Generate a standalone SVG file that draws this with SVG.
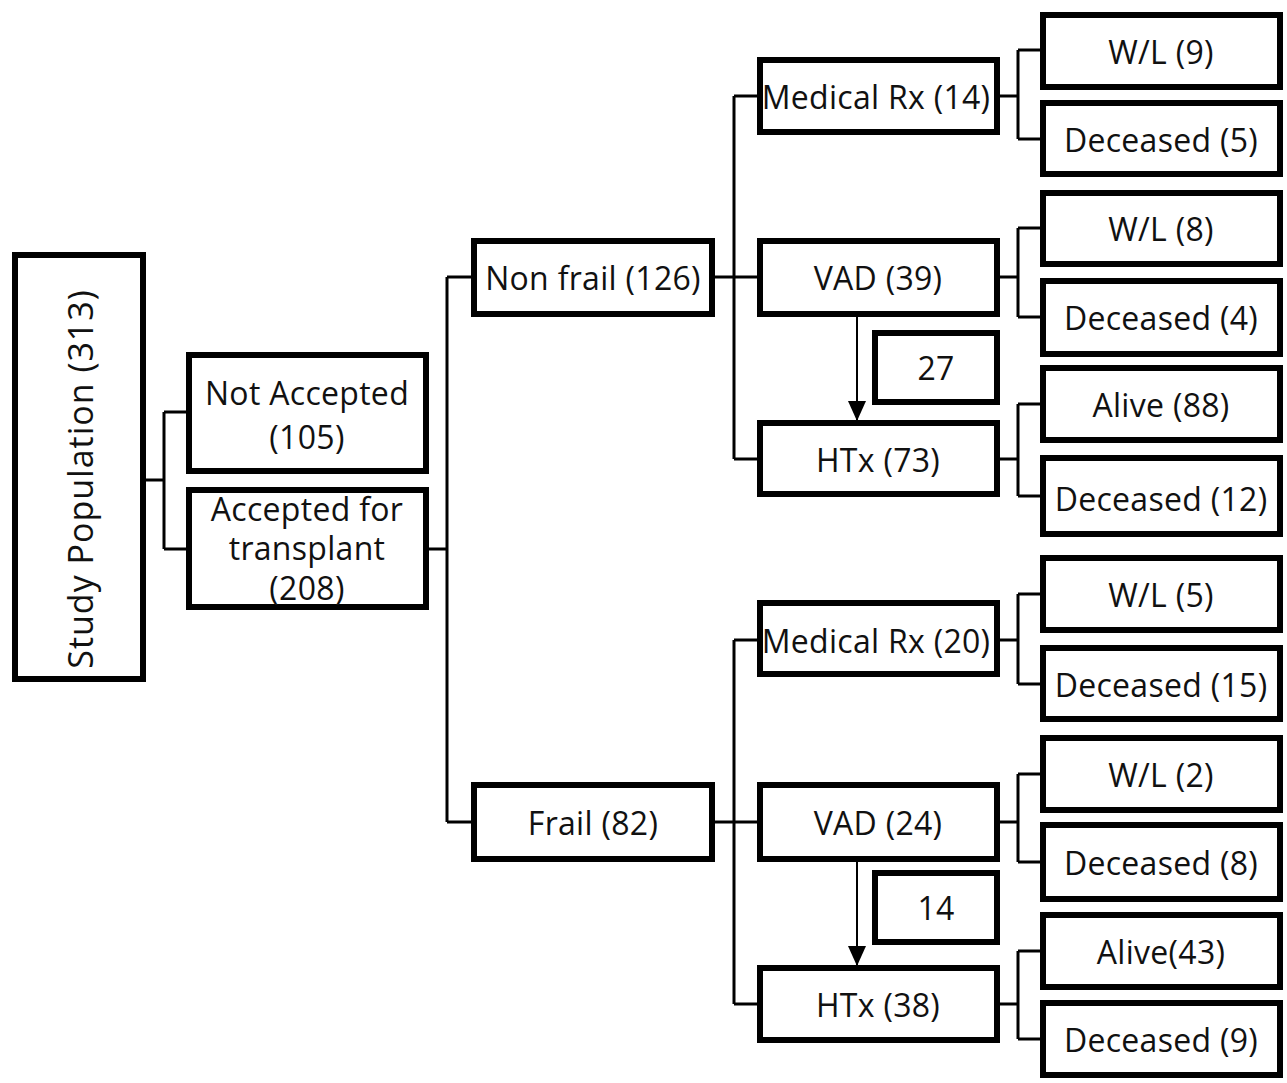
<svg xmlns="http://www.w3.org/2000/svg" width="1287" height="1083" viewBox="0 0 1287 1083">
<style>
.box{fill:#fff;stroke:#000;stroke-width:6}
.lbl{font-family:"Open Sans","Noto Sans",sans-serif;font-size:32px;font-weight:500;letter-spacing:0.3px;fill:#111;text-anchor:middle;dominant-baseline:central}
.big{font-size:34px;letter-spacing:1px}
.con{fill:none;stroke:#000;stroke-width:3}
.arr{fill:none;stroke:#000;stroke-width:2}
</style>
<defs>
<marker id="ah" markerWidth="20" markerHeight="18" refX="20" refY="9" orient="auto" markerUnits="userSpaceOnUse" viewBox="0 0 20 18">
<path d="M0,0 L20,9 L0,18 Z" fill="#000"/>
</marker>
</defs>
<rect width="1287" height="1083" fill="#fff"/>
<g id="connectors">
<path class="con" d="M146,480 H164 M164,412 V549 M164,412 H189 M164,549 H189"/>
<path class="con" d="M429,549 H447 M447,277 V822 M447,277 H474 M447,822 H474"/>
<path class="con" d="M715,277 H734 M734,96 V459 M734,96 H760 M734,277 H760 M734,459 H760"/>
<path class="con" d="M715,822 H734 M734,640 V1004 M734,640 H760 M734,822 H760 M734,1004 H760"/>
<path class="con" d="M1000,96 H1018 M1018,50 V139 M1018,50 H1043 M1018,139 H1043"/>
<path class="con" d="M1000,277 H1018 M1018,228 V317 M1018,228 H1043 M1018,317 H1043"/>
<path class="con" d="M1000,459 H1018 M1018,404 V496 M1018,404 H1043 M1018,496 H1043"/>
<path class="con" d="M1000,640 H1018 M1018,594 V684 M1018,594 H1043 M1018,684 H1043"/>
<path class="con" d="M1000,822 H1018 M1018,774 V862 M1018,774 H1043 M1018,862 H1043"/>
<path class="con" d="M1000,1004 H1018 M1018,951 V1039 M1018,951 H1043 M1018,1039 H1043"/>
<line class="arr" x1="857" y1="317" x2="857" y2="421" marker-end="url(#ah)"/>
<line class="arr" x1="857" y1="862" x2="857" y2="966" marker-end="url(#ah)"/>
</g>
<g id="study"><rect class="box" x="15" y="255" width="128" height="424"/><text class="lbl big" transform="translate(80,479) rotate(-90)" x="0" y="0">Study Population (313)</text></g>
<g id="notaccepted"><rect class="box" x="189" y="355" width="237" height="116"/><text class="lbl" x="307" y="392">Not Accepted</text><text class="lbl" x="307" y="436">(105)</text></g>
<g id="accepted"><rect class="box" x="189" y="490" width="237" height="117"/><text class="lbl" x="307" y="508">Accepted for</text><text class="lbl" x="307" y="547">transplant</text><text class="lbl" x="307" y="587">(208)</text></g>
<g id="nonfrail"><rect class="box" x="474" y="241" width="238" height="73"/><text class="lbl" x="593" y="277">Non frail (126)</text></g>
<g id="frail"><rect class="box" x="474" y="785" width="238" height="74"/><text class="lbl" x="593" y="822">Frail (82)</text></g>
<g id="medrx14"><rect class="box" x="760" y="60" width="237" height="72"/><text class="lbl" x="876" y="96">Medical Rx (14)</text></g>
<g id="vad39"><rect class="box" x="760" y="241" width="237" height="73"/><text class="lbl" x="878" y="277">VAD (39)</text></g>
<g id="n27"><rect class="box" x="875" y="333" width="122" height="69"/><text class="lbl" x="936" y="367">27</text></g>
<g id="htx73"><rect class="box" x="760" y="423" width="237" height="71"/><text class="lbl" x="878" y="459">HTx (73)</text></g>
<g id="wl9"><rect class="box" x="1043" y="15" width="237" height="72"/><text class="lbl" x="1161" y="51">W/L (9)</text></g>
<g id="dec5"><rect class="box" x="1043" y="103" width="237" height="71"/><text class="lbl" x="1161" y="139">Deceased (5)</text></g>
<g id="wl8"><rect class="box" x="1043" y="193" width="237" height="71"/><text class="lbl" x="1161" y="228">W/L (8)</text></g>
<g id="dec4"><rect class="box" x="1043" y="281" width="237" height="73"/><text class="lbl" x="1161" y="317">Deceased (4)</text></g>
<g id="alive88"><rect class="box" x="1043" y="368" width="237" height="72"/><text class="lbl" x="1161" y="404">Alive (88)</text></g>
<g id="dec12"><rect class="box" x="1043" y="458" width="237" height="76"/><text class="lbl" x="1161" y="498">Deceased (12)</text></g>
<g id="medrx20"><rect class="box" x="760" y="603" width="237" height="71"/><text class="lbl" x="876" y="640">Medical Rx (20)</text></g>
<g id="vad24"><rect class="box" x="760" y="785" width="237" height="74"/><text class="lbl" x="878" y="822">VAD (24)</text></g>
<g id="n14"><rect class="box" x="875" y="873" width="122" height="69"/><text class="lbl" x="936" y="907">14</text></g>
<g id="htx38"><rect class="box" x="760" y="968" width="237" height="72"/><text class="lbl" x="878" y="1004">HTx (38)</text></g>
<g id="wl5"><rect class="box" x="1043" y="558" width="237" height="72"/><text class="lbl" x="1161" y="594">W/L (5)</text></g>
<g id="dec15"><rect class="box" x="1043" y="648" width="237" height="71"/><text class="lbl" x="1161" y="684">Deceased (15)</text></g>
<g id="wl2"><rect class="box" x="1043" y="738" width="237" height="72"/><text class="lbl" x="1161" y="774">W/L (2)</text></g>
<g id="dec8"><rect class="box" x="1043" y="825" width="237" height="74"/><text class="lbl" x="1161" y="862">Deceased (8)</text></g>
<g id="alive43"><rect class="box" x="1043" y="915" width="237" height="72"/><text class="lbl" x="1161" y="951">Alive(43)</text></g>
<g id="dec9"><rect class="box" x="1043" y="1003" width="237" height="72"/><text class="lbl" x="1161" y="1039">Deceased (9)</text></g>
</svg>
